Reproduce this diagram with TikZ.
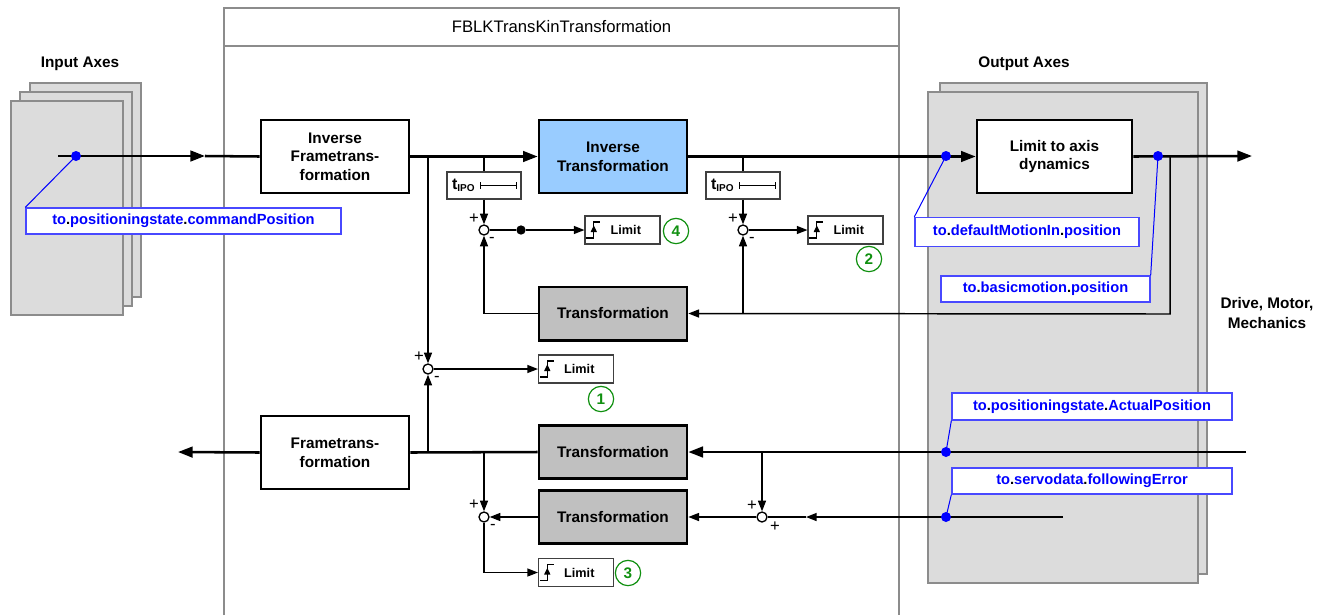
\documentclass[tikz,border=0pt]{standalone}
\usepackage{fontspec}
\setmainfont{Liberation Sans}
\usetikzlibrary{arrows.meta}

\definecolor{axisfill}{HTML}{DCDCDC}
\definecolor{axisedge}{HTML}{8C8C8C}
\definecolor{blockgray}{HTML}{C0C0C0}
\definecolor{blockblue}{HTML}{99CCFF}
\definecolor{sigblue}{HTML}{0000FF}
\definecolor{tagedge}{HTML}{4848FF}
\definecolor{numgreen}{HTML}{109010}

% black separator dot inside the blue signal names
\newcommand\kdot{\textcolor{black}{.}}

% step symbol drawn in the left part of a limit box
\newcommand\limiticon[1]{%
  \draw[line width=0.9pt] ([shift={(1.5pt,-6pt)}]#1.west) -- ++(5.5pt,0) -- ++(0,12pt) -- ++(5pt,0);
  \draw[line width=0.9pt,-{Triangle[length=5pt,width=4.5pt]}] ([shift={(7pt,-6pt)}]#1.west) -- ++(0,9.5pt);}

% interval bar inside a t_IPO box
\newcommand\ipobar[1]{%
  \draw[line width=0.7pt,{Bar[width=5pt]}-{Bar[width=5pt]}] ([xshift=-31.5pt]#1.east) -- ([xshift=-3.75pt]#1.east);}

\newcommand\tipo{{\fontsize{12}{12}\selectfont t}\raisebox{-1.5pt}{\fontsize{7.5}{8}\selectfont IPO}}

\begin{document}
\begin{tikzpicture}[x=0.75pt,y=-0.75pt,
  font=\bfseries\fontsize{11.5}{14}\selectfont,
  axis/.style={fill=axisfill, draw=axisedge, line width=1.6pt},
  frameline/.style={draw=axisedge, line width=1.5pt},
  block/.style={draw=black, line width=2pt, minimum width=111pt, align=center, inner sep=1pt},
  tallblock/.style={block, fill=white, minimum height=54.75pt},
  flatblock/.style={block, fill=blockgray, minimum height=40pt},
  main/.style={line width=1.9pt},
  sig/.style={line width=1.1pt},
  bigtip/.style={-{Triangle[length=11pt,width=8pt]}},
  smalltip/.style={-{Triangle[length=8pt,width=6pt]}},
  limbox/.style={draw=black!75, line width=0.8pt, fill=white, minimum width=56.25pt,
    minimum height=21pt, inner sep=0pt, font=\bfseries\fontsize{9.5}{11}\selectfont},
  tipobox/.style={draw=black!75, line width=0.8pt, fill=white, minimum height=20.25pt,
    text width=48pt, align=left, inner sep=3.75pt, font=\bfseries},
  sumj/.style={circle, draw=black, line width=1pt, fill=white, minimum size=7.5pt, inner sep=0pt},
  joint/.style={circle, fill=black, minimum size=7pt, inner sep=0pt},
  tag/.style={draw=tagedge, line width=1pt, fill=white, text=sigblue, inner sep=0pt,
    font=\bfseries\fontsize{11}{13}\selectfont},
  tapdot/.style={circle, fill=sigblue, minimum size=7.5pt, inner sep=0pt},
  lead/.style={draw=sigblue, line width=0.75pt},
  num/.style={circle, draw=numgreen, line width=0.9pt, text=numgreen, minimum size=19pt,
    inner sep=0pt, font=\bfseries\fontsize{11.5}{13}\selectfont},
  pm/.style={inner sep=0pt, font=\mdseries\fontsize{12.5}{13}\selectfont},
  heading/.style={align=center, font=\bfseries\fontsize{11.5}{15.5}\selectfont},
]
\useasboundingbox (0,0) rectangle (1320,615);

% ---- input axes stack
\draw[axis] (30,83) rectangle (141,297);
\draw[axis] (20,92) rectangle (132,306);
\draw[axis] (11,101) rectangle (123,315);
\node[heading] (inaxes) at (80,64) {Input Axes};

% ---- output axes stack
\draw[axis] (940,83) rectangle (1207,574);
\draw[axis] (928,92) rectangle (1198,583);
\node[heading] (outaxes) at (1024,64) {Output Axes};
\node[heading] (drive) at (1267,313) {Drive, Motor,\\Mechanics};

% ---- function block frame
\draw[frameline] (224,615) -- (224,8) -- (899,8) -- (899,615);
\draw[frameline] (224,46) -- (899,46);
\node[font=\mdseries\fontsize{12.5}{14}\selectfont] (fbtitle) at (561.5,27) {FBLKTransKinTransformation};

% ---- main blocks
\node[tallblock] (ift) at (335,156.5) {Inverse\\Frametrans-\\formation};
\node[tallblock, fill=blockblue] (inv) at (613,156.5) {Inverse\\Transformation};
\node[tallblock, minimum width=116.25pt] (lad) at (1054.5,156.5) {Limit to axis\\dynamics};
\node[flatblock] (tr1) at (613,313.5) {Transformation};
\node[flatblock] (tr2) at (613,452) {Transformation};
\node[flatblock] (tr3) at (613,517) {Transformation};
\node[tallblock] (ft) at (335,452.5) {Frametrans-\\formation};

% ---- delay boxes
\node[tipobox] (tipo1) at (484,185.5) {\tipo};
\node[tipobox] (tipo2) at (743,185.5) {\tipo};
\ipobar{tipo1}
\ipobar{tipo2}

% ---- summing points
\node[sumj] (j4) at (484,230) {};
\node[sumj] (j2) at (743,230) {};
\node[sumj] (j1) at (428,369) {};
\node[sumj] (j3) at (484,517) {};
\node[sumj] (j5) at (762,517) {};
\node[joint] (jdot) at (521,230) {};

\node[pm] at (474,219) {+};  \node[pm] at (492,240) {-};
\node[pm] at (733,219) {+};  \node[pm] at (752,240) {-};
\node[pm] at (419,357) {+};  \node[pm] at (437,379) {-};
\node[pm] at (474,505) {+};  \node[pm] at (493,527) {-};
\node[pm] at (752,506) {+};  \node[pm] at (775,527) {+};

% ---- limit boxes
\node[limbox] (lim4) at (622.5,230) {\hspace{5pt}Limit};
\node[limbox] (lim2) at (845.5,230) {\hspace{5pt}Limit};
\node[limbox] (lim1) at (576,369) {\hspace{5pt}Limit};
\node[limbox] (lim3) at (576,572.5) {\hspace{5pt}Limit};
\limiticon{lim4}
\limiticon{lim2}
\limiticon{lim1}
\limiticon{lim3}

\node[num] (n4) at (676,231) {4};
\node[num] (n2) at (869,259) {2};
\node[num] (n1) at (601,399) {1};
\node[num] (n3) at (628,573) {3};

% ---- connection points
\coordinate (inStart) at (58,156);
\coordinate (inMid) at (205,156);
\coordinate (brA) at (428,156);
\coordinate (brB) at (484,156);
\coordinate (brC) at (743,156);
\coordinate (fbTap) at (1170,156);
\coordinate (outEnd) at (1252,156);
\coordinate (fbCorner) at (1170,314);
\coordinate (fbBranch) at (743,314);
\coordinate (actIn) at (1246,452);
\coordinate (brD) at (428,452);
\coordinate (brE) at (484,452);
\coordinate (brF) at (762,452);
\coordinate (backEnd) at (178,452);
\coordinate (errIn) at (1063,517);
\coordinate (errMid) at (806,517);

% ---- forward path
\draw[main,bigtip] (inStart) -- (inMid);
\draw[main] (inMid) -- (ift.west);
\draw[main,bigtip] (ift.east) -- (inv.west);
\draw[main,bigtip] (inv.east) -- (lad.west);
\draw[main,bigtip] (lad.east) -- (outEnd);

% ---- command-side branches
\draw[sig,smalltip] (brA) -- (j1);
\draw[sig] (brB) -- (tipo1.north);
\draw[sig,smalltip] (tipo1.south) -- (j4);
\draw[sig] (brC) -- (tipo2.north);
\draw[sig,smalltip] (tipo2.south) -- (j2);

% ---- feedback of the commanded output
\draw[sig,smalltip] (fbTap) -- (fbCorner) -- (tr1.east);
\draw[sig,smalltip] (fbBranch) -- (j2);
\draw[sig,smalltip] (tr1.west) -| (j4);

% ---- limit inputs
\draw[sig] (j4) -- (jdot);
\draw[sig,smalltip] (jdot) -- (lim4.west);
\draw[sig,smalltip] (j2) -- (lim2.west);
\draw[sig,smalltip] (j1) -- (lim1.west);
\draw[sig,smalltip] (j3) |- (lim3.west);

% ---- actual position path
\draw[main,bigtip] (actIn) -- (tr2.east);
\draw[main] (tr2.west) -- (ft.east);
\draw[main,bigtip] (ft.west) -- (backEnd);
\draw[sig,smalltip] (brD) -- (j1);
\draw[sig,smalltip] (brE) -- (j3);
\draw[sig,smalltip] (brF) -- (j5);

% ---- following error path
\draw[sig,smalltip] (errIn) -- (errMid);
\draw[sig] (errMid) -- (j5);
\draw[sig,smalltip] (j5) -- (tr3.east);
\draw[sig,smalltip] (tr3.west) -- (j3);

% ---- signal names
\node[tag, minimum width=236.25pt, minimum height=19.5pt] (tagCmd) at (183.5,221) {to\kdot positioningstate\kdot commandPosition};
\node[tag, minimum width=168pt, minimum height=21.75pt] (tagDef) at (1027,232) {to\kdot defaultMotionIn\kdot position};
\node[tag, minimum width=156.75pt, minimum height=19.5pt] (tagBas) at (1045.5,289) {to\kdot basicmotion\kdot position};
\node[tag, minimum width=210pt, minimum height=20.25pt] (tagAct) at (1092,406.5) {to\kdot positioningstate\kdot ActualPosition};
\node[tag, minimum width=210pt, minimum height=19.5pt] (tagErr) at (1092,481) {to\kdot servodata\kdot followingError};

\node[tapdot] (dCmd) at (76,156) {};
\node[tapdot] (dDef) at (946,156) {};
\node[tapdot] (dBas) at (1158,156) {};
\node[tapdot] (dAct) at (946,452) {};
\node[tapdot] (dErr) at (946,517) {};

\draw[lead] (dCmd.center) -- (tagCmd.north west);
\draw[lead] (dDef.center) -- (tagDef.north west);
\draw[lead] (dBas.center) -- (tagBas.north east);
\draw[lead] (dAct.center) -- (tagAct.south west);
\draw[lead] (dErr.center) -- (tagErr.south west);
\end{tikzpicture}
\end{document}
